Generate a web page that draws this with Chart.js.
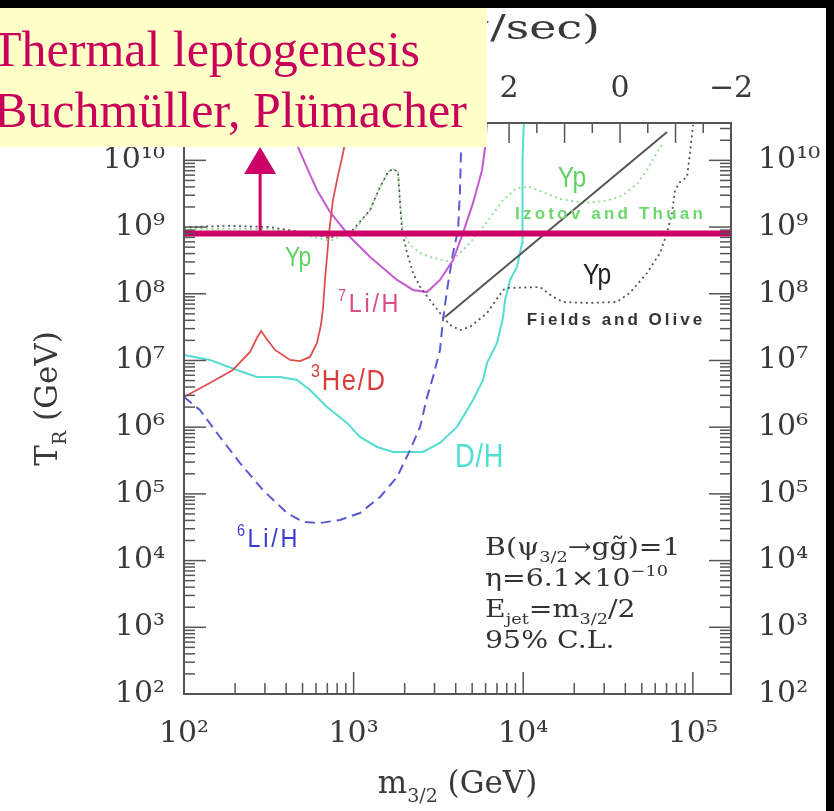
<!DOCTYPE html>
<html>
<head>
<meta charset="utf-8">
<script src="https://cdn.jsdelivr.net/npm/chart.js@4.4.0/dist/chart.umd.min.js"></script>
<style>
  html, body { margin: 0; padding: 0; background: #000; }
  #wrap { position: absolute; left: 0; top: 8px; width: 826px; height: 803px; }
</style>
</head>
<body>
<div id="wrap"><canvas id="bbn" width="826" height="803"></canvas></div>
<script>
// axis ranges
const xMin = 100, xMax = 167900;
const yMin = 100, yMax = 3.63e10;
const tauLeft = 7.86, tauRight = -2;

// 3He/D (red)
const heDx = [100, 142, 194, 245, 269, 285, 304, 344, 422, 483, 553, 608, 642, 661, 678, 697, 716, 756, 810, 867, 940];
const heDy = [2.84e6, 4.6e6, 7.2e6, 1.34e7, 2.17e7, 2.77e7, 2.17e7, 1.44e7, 1.02e7, 9.8e6, 1.13e7, 1.83e7, 3.4e7, 6.3e7, 1.61e8, 3.56e8, 8.2e8, 2.55e9, 6.0e9, 1.29e10, 4.0e10];

// D/H (cyan)
const dhx = [100, 142, 205, 269, 368, 464, 553, 697, 914, 1091, 1375, 1708, 2564, 3230, 4070, 5060, 5800, 6120, 7010, 7610, 7820, 8360, 9190, 9840, 9840, 9970, 10100];
const dhy = [1.21e7, 1.02e7, 7.2e6, 5.67e6, 5.67e6, 5.1e6, 3.61e6, 2.01e6, 1.16e6, 7.13e5, 5.05e5, 4.25e5, 4.25e5, 5.8e5, 1.01e6, 2.56e6, 5.1e6, 9.2e6, 1.83e7, 4.49e7, 8.07e7, 1.61e8, 2.52e8, 5.78e8, 2.55e9, 1.01e10, 4e10];

// 6Li/H (blue dashed)
const li6x = [100, 124, 163, 214, 292, 405, 503, 634, 831, 1091, 1432, 1804, 2153, 2466, 2712, 2940, 3230, 3365, 3555, 3858, 4130, 4240, 4300, 4355];
const li6y = [2.84e6, 1.81e6, 7.13e5, 2.9e5, 1.14e5, 5.17e4, 3.79e4, 3.66e4, 4.06e4, 5.17e4, 9.0e4, 1.79e5, 4.55e5, 1.01e6, 2.84e6, 5.67e6, 1.44e7, 4.05e7, 1.14e8, 4.09e8, 9.06e8, 3.6e9, 1.43e10, 4e10];

// 7Li/H (violet)
const li7x = [433, 470, 538, 608, 726, 953, 1250, 1804, 2240, 2712, 3230, 3858, 4415, 5060, 5720, 5960, 6120];
const li7y = [4e10, 1.58e10, 7.18e9, 3.6e9, 1.68e9, 7.1e8, 3.56e8, 1.61e8, 1.14e8, 1.06e8, 1.61e8, 3.21e8, 8.2e8, 2.3e9, 7.18e9, 1.58e10, 4e10];

// Yp, Fields and Olive (black dotted)
const foX = [100, 187, 321, 483, 726, 990, 1250, 1432, 1597, 1708, 1828, 1878, 1929, 2064, 2240, 2466, 2820, 3365, 3700, 4240, 4850, 6120, 7610, 8030, 12570, 15000, 17200, 23800, 35700, 42600, 53700, 64100, 70500, 75400, 78500, 84100, 92500, 96200, 100300];
const foY = [1.0e9, 1.04e9, 1.0e9, 8.45e8, 6.87e8, 9.06e8, 1.8e9, 3.99e9, 6.7e9, 7.43e9, 6.7e9, 2.3e9, 9.06e8, 4.09e8, 2.05e8, 1.26e8, 8.07e7, 4.49e7, 3.4e7, 2.86e7, 3.18e7, 5.15e7, 1.14e8, 1.22e8, 1.26e8, 8.95e7, 7.54e7, 7.28e7, 7.54e7, 1.03e8, 2.05e8, 4.09e8, 8.2e8, 1.63e9, 3.6e9, 4.74e9, 5.64e9, 1.29e10, 3.39e10];

// Yp, Izotov and Thuan (green dotted)
const itX = [100, 321, 483, 726, 990, 1250, 1432, 1597, 1708, 1828, 1878, 1955, 2153, 2466, 2940, 3555, 4130, 4850, 6120, 7610, 9190, 10960, 13440, 16500, 23100, 30400, 38300, 46900, 53700, 59800, 66700];
const itY = [9.37e8, 9.37e8, 7.89e8, 6.19e8, 8.45e8, 1.8e9, 3.99e9, 6.7e9, 7.43e9, 6.7e9, 2.3e9, 8.45e8, 5.4e8, 4.09e8, 3.44e8, 3.1e8, 3.82e8, 5.78e8, 1.19e9, 2.55e9, 3.85e9, 3.99e9, 3.24e9, 2.64e9, 2.3e9, 2.46e9, 2.93e9, 4.43e9, 7.18e9, 1.16e10, 1.82e10];

// straight black line
const slopeX = [3460, 70500];
const slopeY = [4.49e7, 2.67e10];

// thermal leptogenesis bound
const leptoX = [xMin, xMax];
const leptoY = [8e8, 8e8];
const arrowX = 281, arrowTipY = 1.58e10;

const magenta = '#cc0066';
const ink = '#3a3a3a';
const serif = '"DejaVu Serif"';
const sans = '"Liberation Sans"';

const pts = (xs, ys) => xs.map((x, i) => ({ x: x, y: ys[i] }));

const sup = { '0': '⁰', '1': '¹', '2': '²', '3': '³', '4': '⁴', '5': '⁵', '6': '⁶', '7': '⁷', '8': '⁸', '9': '⁹', '-': '⁻' };
const powLabel = v => {
  const e = Math.log10(v), r = Math.round(e);
  if (Math.abs(e - r) > 1e-6) return '';
  return '10' + String(r).split('').map(c => sup[c]).join('');
};

// text drawn on the plot, anchored in data units
const notes = [
  { parts: [['Yp', '']], x: 394, y: 2.61e8, color: '#5fd35f', size: 27, sx: 0.85 },
  { parts: [['Yp', '']], x: 16000, y: 4.0e9, color: '#5fd35f', size: 29, sx: 0.85 },
  { parts: [['Izotov and Thuan', '']], x: 8950, y: 1.32e9, color: '#6cd86c', size: 17, weight: 'bold', ls: 3.2 },
  { parts: [['Yp', '']], x: 22500, y: 1.4e8, color: '#222', size: 29, sx: 0.85 },
  { parts: [['Fields and Olive', '']], x: 10500, y: 3.4e7, color: '#333', size: 17, weight: 'bold', ls: 3 },
  { parts: [['7', 'sup'], ['Li/H', '']], x: 810, y: 5.33e7, color: '#d84d88', size: 26, ls: 3, sx: 0.9 },
  { parts: [['3', 'sup'], ['He/D', '']], x: 561, y: 3.6e6, color: '#dd3b3b', size: 30, ls: 2, sx: 0.85 },
  { parts: [['D/H', '']], x: 3960, y: 2.53e5, color: '#4fded2', size: 34, ls: 1, sx: 0.8 },
  { parts: [['6', 'sup'], ['Li/H', '']], x: 205, y: 1.6e4, color: '#3a3ad0', size: 26, ls: 3, sx: 0.9 }
];
const caption = [
  { parts: [['B(ψ', ''], ['3/2', 'sub'], ['→g', ''], ['g̃', ''], [')=1', '']], y: 1.21e4 },
  { parts: [['η=6.1×10', ''], ['−10', 'sup']], y: 4.16e3 },
  { parts: [['E', ''], ['jet', 'sub'], ['=m', ''], ['3/2', 'sub'], ['/2', '']], y: 1.43e3 },
  { parts: [['95% C.L.', '']], y: 490 }
];
const captionX = 5960;

function rich(ctx, parts, x, y, o) {
  const size = o.size, wt = o.weight || 'normal';
  const fontFor = k => wt + ' ' + (k ? Math.round(size * 0.62) : size) + 'px ' + o.family;
  ctx.save();
  ctx.letterSpacing = (o.ls || 0) + 'px';
  let w = 0;
  parts.forEach(([t, k]) => { ctx.font = fontFor(k); w += ctx.measureText(t).width; });
  ctx.translate(x, y);
  if (o.rotate) ctx.rotate(o.rotate);
  ctx.scale(o.sx || 1, 1);
  let cx = o.align === 'center' ? -w / 2 : (o.align === 'right' ? -w : 0);
  ctx.fillStyle = o.color;
  ctx.textBaseline = 'alphabetic';
  ctx.textAlign = 'left';
  parts.forEach(([t, k]) => {
    ctx.font = fontFor(k);
    const dy = k === 'sub' ? size * 0.3 : (k === 'sup' ? -size * 0.42 : 0);
    ctx.fillText(t, cx, dy);
    cx += ctx.measureText(t).width;
  });
  ctx.restore();
}

function seg(ctx, x0, y0, x1, y1) {
  ctx.beginPath(); ctx.moveTo(x0, y0); ctx.lineTo(x1, y1); ctx.stroke();
}

const paper = {
  id: 'paper',
  beforeDraw(chart) {
    const ctx = chart.ctx;
    ctx.save();
    ctx.fillStyle = '#fff';
    ctx.fillRect(0, 0, chart.width, chart.height);
    ctx.restore();
  },
  afterDatasetsDraw(chart) {
    const ctx = chart.ctx, ca = chart.chartArea;
    const xs = chart.scales.x, ys = chart.scales.y, xt = chart.scales.xTop;
    ctx.save();
    // frame
    ctx.strokeStyle = '#555';
    ctx.lineWidth = 2;
    ctx.strokeRect(ca.left, ca.top, ca.right - ca.left, ca.bottom - ca.top);
    // inside tick marks
    ctx.lineWidth = 1.5;
    for (let e = 2; e <= 5; e++) {
      for (let k = 1; k <= 9; k++) {
        const v = k * Math.pow(10, e);
        if (v <= xMin || v >= xMax) continue;
        const px = xs.getPixelForValue(v);
        seg(ctx, px, ca.bottom, px, ca.bottom - (k === 1 ? 22 : 11));
      }
    }
    for (let e = 2; e <= 10; e++) {
      for (let k = 1; k <= 9; k++) {
        const v = k * Math.pow(10, e);
        if (v <= yMin || v >= yMax) continue;
        const py = ys.getPixelForValue(v);
        const len = k === 1 ? 22 : 11;
        seg(ctx, ca.left, py, ca.left + len, py);
        seg(ctx, ca.right, py, ca.right - len, py);
      }
    }
    for (let t = tauRight; t <= tauLeft; t += 0.5) {
      const px = xt.getPixelForValue(t);
      seg(ctx, px, ca.top, px, ca.top + (Number.isInteger(t) ? 20 : 10));
    }
    // arrow up from the leptogenesis line
    const ax = xs.getPixelForValue(arrowX);
    const ay0 = ys.getPixelForValue(leptoY[0]);
    const ay1 = ys.getPixelForValue(arrowTipY);
    ctx.strokeStyle = magenta;
    ctx.fillStyle = magenta;
    ctx.lineWidth = 3;
    seg(ctx, ax, ay0, ax, ay1 + 26);
    ctx.beginPath();
    ctx.moveTo(ax, ay1);
    ctx.lineTo(ax - 16, ay1 + 27);
    ctx.lineTo(ax + 16, ay1 + 27);
    ctx.closePath();
    ctx.fill();
    // curve labels
    notes.forEach(n => rich(ctx, n.parts, xs.getPixelForValue(n.x), ys.getPixelForValue(n.y),
      { family: sans, size: n.size, weight: n.weight, color: n.color, ls: n.ls, sx: n.sx }));
    caption.forEach(c => rich(ctx, c.parts, xs.getPixelForValue(captionX), ys.getPixelForValue(c.y),
      { family: serif, size: 24, color: '#333', sx: 1.18 }));
    // axis titles
    rich(ctx, [['m', ''], ['3/2', 'sub'], [' (GeV)', '']], (ca.left + ca.right) / 2, 785,
      { family: serif, size: 31, color: ink, align: 'center' });
    rich(ctx, [['T', ''], ['R', 'sub'], [' (GeV)', '']], 57, (ca.top + ca.bottom) / 2 - 10,
      { family: serif, size: 31, color: ink, align: 'center', rotate: -Math.PI / 2 });
    ctx.restore();
  },
  afterDraw(chart) {
    const ctx = chart.ctx;
    ctx.save();
    rich(ctx, [['log', ''], ['10', 'sub'], ['(τ/sec)', '']], 600, 31,
      { family: serif, size: 34, color: ink, align: 'right', sx: 1.35 });
    // highlighted note box
    ctx.fillStyle = '#ffffc8';
    ctx.fillRect(0, 0, 487, 139);
    ctx.fillStyle = '#c8005a';
    ctx.font = '50px "Liberation Serif"';
    ctx.textBaseline = 'alphabetic';
    ctx.fillText('Thermal leptogenesis', -9, 58);
    ctx.fillText('Buchmüller, Plümacher', -6, 119);
    ctx.restore();
  }
};

const line = (data, color, width, dash) => ({
  data: data, showLine: true, borderColor: color, backgroundColor: color,
  borderWidth: width, borderDash: dash || [], pointRadius: 0, fill: false, tension: 0
});

const tickFont = { family: 'DejaVu Serif', size: 30 };

new Chart(document.getElementById('bbn'), {
  type: 'scatter',
  data: {
    datasets: [
      line(pts(leptoX, leptoY), magenta, 6),
      line(pts(slopeX, slopeY), '#555', 2),
      line(pts(foX, foY), '#555', 1.8, [2, 3.5]),
      line(pts(heDx, heDy), '#dd5050', 1.8),
      line(pts(li7x, li7y), '#c45ad2', 2),
      line(pts(li6x, li6y), '#5a5ad2', 2, [10, 6]),
      line(pts(dhx, dhy), '#55dcd0', 2),
      line(pts(itX, itY), '#8edc8e', 1.8, [2, 3.5])
    ]
  },
  options: {
    responsive: false,
    animation: false,
    devicePixelRatio: 1,
    events: [],
    layout: { padding: 0 },
    plugins: { legend: { display: false }, tooltip: { enabled: false } },
    scales: {
      x: {
        type: 'logarithmic', position: 'bottom', min: xMin, max: xMax,
        grid: { display: false, drawTicks: false }, border: { display: false },
        ticks: { autoSkip: false, maxRotation: 0, minRotation: 0, padding: 22, color: ink, font: tickFont, callback: powLabel },
        afterFit: s => { s.height = 117; }
      },
      xTop: {
        type: 'linear', position: 'top', reverse: true, min: tauRight, max: tauLeft,
        grid: { display: false, drawTicks: false }, border: { display: false },
        ticks: { stepSize: 2, includeBounds: false, autoSkip: false, maxRotation: 0, padding: 16, color: ink, font: tickFont,
          callback: v => (v < 0 ? '−' + (-v) : String(v)) },
        afterFit: s => { s.height = 115; }
      },
      y: {
        type: 'logarithmic', position: 'left', min: yMin, max: yMax,
        grid: { display: false, drawTicks: false }, border: { display: false },
        ticks: { autoSkip: false, padding: 19, color: ink, font: tickFont, callback: powLabel },
        afterFit: s => { s.width = 184; }
      },
      yRight: {
        type: 'logarithmic', position: 'right', min: yMin, max: yMax,
        grid: { display: false, drawTicks: false }, border: { display: false },
        ticks: { autoSkip: false, padding: 27, color: ink, font: tickFont, callback: powLabel },
        afterFit: s => { s.width = 95; }
      }
    }
  },
  plugins: [paper]
});
</script>
</body>
</html>
